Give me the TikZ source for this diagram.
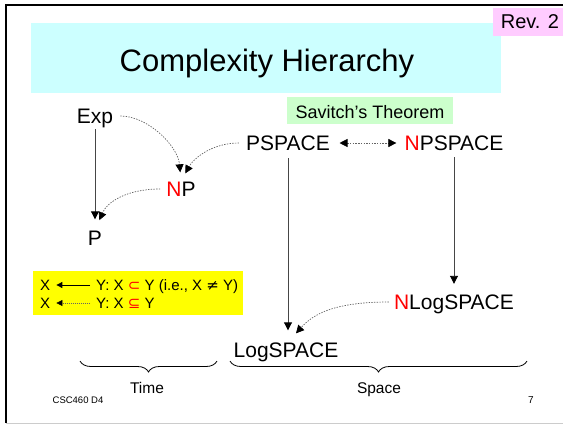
\documentclass[tikz,border=0pt]{standalone}
\usepackage{fontspec}
\setmainfont{Liberation Sans}
\newfontfamily\symfont{DejaVu Sans}
\usetikzlibrary{arrows.meta,decorations.pathreplacing}
\definecolor{titlecyan}{RGB}{204,255,255}
\definecolor{revpink}{RGB}{255,204,255}
\definecolor{thmgreen}{RGB}{204,255,204}
\definecolor{legyellow}{RGB}{255,255,0}
\definecolor{linegray}{RGB}{70,70,70}
\definecolor{dotgray}{RGB}{100,100,100}
\begin{document}
\begin{tikzpicture}[x=1pt,y=-1pt,
  lbl/.style={font=\fontsize{21}{21}\selectfont, inner sep=0pt, text height=15pt, text depth=0pt},
  leg/.style={font=\fontsize{15}{15}\selectfont, inner sep=0pt, text height=11pt, text depth=0pt},
  boxfill/.style={draw=none, inner sep=0pt},
  tip/.style={-{Triangle[length=8pt,width=8pt,color=black]}},
  smalltip/.style={-{Triangle[length=6pt,width=6pt,color=black]}},
  solidc/.style={tip, draw=linegray, line width=0.9pt},
  dotc/.style={tip, draw=dotgray, line width=0.7pt, dash pattern=on 1.4pt off 1.3pt},
  bracec/.style={decorate, decoration={brace, mirror, amplitude=11pt}, line width=0.8pt}
]
\useasboundingbox (0,0) rectangle (563,424);
% slide frame
\coordinate (ftl) at (6,5);
\coordinate (ftr) at (563,5);
\coordinate (fbl) at (6,423);
\coordinate (fbr) at (563,423);
\draw[line width=2pt] (ftr) -- (ftl) -- (fbl);
\draw[line width=1pt, black!20] (fbl) -- (fbr);
% coloured boxes
\node[boxfill, fill=titlecyan, minimum width=470pt, minimum height=70pt] (titlebox) at (266,58) {};
\node[font=\fontsize{31}{31}\selectfont, inner sep=0pt, text height=22pt, text depth=0pt] (title) at (267,60) {Complexity Hierarchy};
\node[boxfill, fill=revpink, minimum width=70pt, minimum height=28pt] (revbox) at (528,21.5) {};
\node[font=\fontsize{20}{20}\selectfont, inner sep=0pt, text height=14pt, text depth=0pt] (rev) at (530,21.5) {Rev. 2};
\node[boxfill, fill=thmgreen, minimum width=166pt, minimum height=27pt] (thmbox) at (370,110.5) {};
\node[font=\fontsize{18}{18}\selectfont, inner sep=0pt, text height=13pt, text depth=0pt] (thm) at (370,112) {Savitch’s Theorem};
\node[boxfill, fill=legyellow, minimum width=210pt, minimum height=44pt] (legbox) at (138,293) {};
% class nodes
\node[lbl] (exp) at (95,116) {Exp};
\node[lbl] (np) at (181,189) {\textcolor{red}{N}P};
\node[lbl] (p) at (95,238) {P};
\node[lbl] (pspace) at (288,143) {PSPACE};
\node[lbl] (npspace) at (454,143) {\textcolor{red}{N}PSPACE};
\node[lbl] (nlog) at (454,302) {\textcolor{red}{N}LogSPACE};
\node[lbl] (log) at (286,350) {LogSPACE};
% connectors
\draw[solidc, shorten <=5.5pt, shorten >=11pt] (exp.south) -- (p.north);
\draw[dotc, shorten <=7pt, shorten >=9pt] (exp.east) .. controls +(35,0) and +(-3,-35) .. (np.north);
\draw[dotc, shorten <=7pt, shorten >=9pt] (pspace.west) .. controls +(-35,0) and +(12,-22) .. (np.north);
\draw[dotc, shorten <=6pt, shorten >=11pt] (np.west) .. controls +(-40,0) and +(12,-28) .. (p.north);
\draw[dotc, {Triangle[length=8pt,width=8pt,color=black]}-{Triangle[length=8pt,width=8pt,color=black]}, shorten <=9.5pt, shorten >=8pt] (pspace.east) -- (npspace.west);
\draw[solidc, shorten <=7.5pt, shorten >=12pt] (pspace.south) -- (pspace.south |- log.north);
\draw[solidc, shorten <=6.5pt, shorten >=10.5pt] (npspace.south) -- (npspace.south |- nlog.north);
\draw[dotc, shorten <=5pt, shorten >=12pt] (nlog.west) .. controls +(-60,0) and +(25,-28) .. ([xshift=2pt]log.north);
% legend
\node[leg, anchor=west] (lx1) at (40,285) {X};
\node[leg, anchor=west] (ly1) at (96,285) {Y: X {\symfont\textcolor{red}{⊂}} Y (i.e., X {\symfont ≠} Y)};
\node[leg, anchor=west] (lx2) at (40,303) {X};
\node[leg, anchor=west] (ly2) at (96,303) {Y: X {\symfont\textcolor{red}{⊆}} Y};
\draw[smalltip, line width=0.9pt, shorten <=6pt, shorten >=6pt] (ly1.west) -- (lx1.east);
\draw[smalltip, draw=dotgray, line width=0.6pt, dash pattern=on 1pt off 1pt, shorten <=6pt, shorten >=6pt] (ly2.west) -- (lx2.east);
% braces
\coordinate (tl) at (80,361);
\coordinate (tr) at (217,361);
\coordinate (sl) at (230,361);
\coordinate (sr) at (527,361);
\draw[bracec] (tl) -- (tr);
\draw[bracec] (sl) -- (sr);
\node[font=\fontsize{15.5}{15.5}\selectfont, inner sep=0pt, text height=11pt, text depth=0pt] (time) at (147,388) {Time};
\node[font=\fontsize{15.5}{15.5}\selectfont, inner sep=0pt, text height=11pt, text depth=0pt] (space) at (379,388) {Space};
% footer
\node[font=\fontsize{9.5}{9.5}\selectfont, inner sep=0pt, text height=7pt, text depth=0pt] (foot) at (78,400) {CSC460 D4};
\node[font=\fontsize{10}{10}\selectfont, inner sep=0pt, text height=7pt, text depth=0pt] (pageno) at (531,400) {7};
\end{tikzpicture}
\end{document}
